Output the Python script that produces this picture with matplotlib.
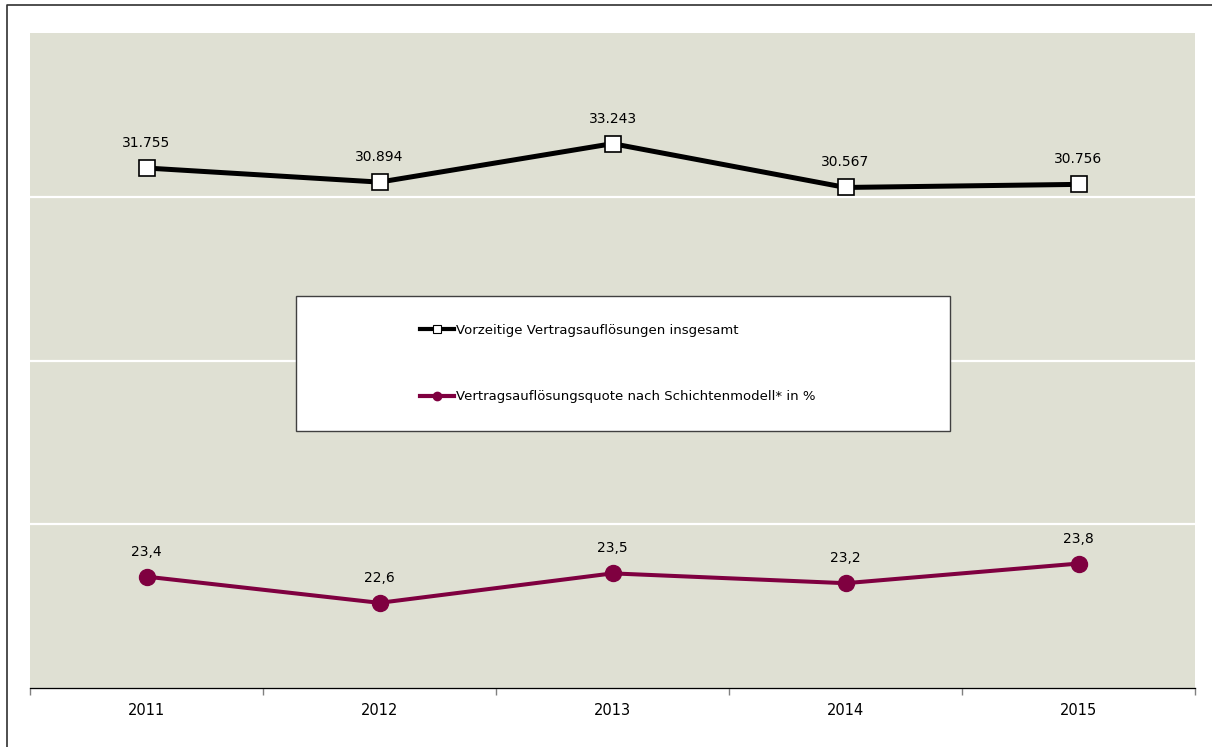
import matplotlib.pyplot as plt
from matplotlib.lines import Line2D
from matplotlib.patches import Rectangle

years = ["2011", "2012", "2013", "2014", "2015"]
aufloesungen = [31755, 30894, 33243, 30567, 30756]
quote = [23.4, 22.6, 23.5, 23.2, 23.8]

label_black = "Vorzeitige Vertragsauflösungen insgesamt"
label_red = "Vertragsauflösungsquote nach Schichtenmodell* in %"

BG = "#dfe0d3"
MAROON = "#7f0040"
W, H = 1212, 747

plt.rcParams['font.family'] = ['DejaVu Sans']
fig = plt.figure(figsize=(W / 100, H / 100), dpi=100)

# plot area in pixel terms
left, right, top, bottom = 30, 1195, 33, 688
ax = fig.add_axes([left / W, 1 - bottom / H, (right - left) / W, (bottom - top) / H])
ax.set_facecolor(BG)
ax2 = ax.twinx()

x = list(range(len(years)))

# left axis: absolute numbers
ax.set_ylim(0, 40000)
ax.set_yticks([10000, 20000, 30000])
ax.yaxis.grid(True, color="white", lw=1.6)
ax.set_axisbelow(True)
ax.tick_params(axis="y", left=False, labelleft=False)

# right axis: percentage
ax2.set_ylim(20, 40)
ax2.tick_params(axis="y", right=False, labelright=False)

for a in (ax, ax2):
    for s in ("top", "left", "right"):
        a.spines[s].set_visible(False)
ax.spines["bottom"].set_color("#808080")
ax.spines["bottom"].set_linewidth(1)

# category axis with ticks between years
ax.set_xlim(-0.5, len(years) - 0.5)
ax.set_xticks([i - 0.5 for i in range(len(years) + 1)])
ax.set_xticklabels([])
ax.set_xticks(x, minor=True)
ax.set_xticklabels(years, minor=True, fontsize=10.5)
ax.tick_params(axis="x", which="major", direction="out", length=5, color="#808080", width=1)
ax.tick_params(axis="x", which="minor", length=0, pad=11)

l1, = ax.plot(x, aufloesungen, color="black", lw=3.6, marker="s", ms=11,
              mfc="white", mec="black", mew=1.2, zorder=3)
l2, = ax2.plot(x, quote, color=MAROON, lw=2.9, marker="o", ms=11.5,
               mfc=MAROON, mec=MAROON, zorder=3)

for xi, v in zip(x, aufloesungen):
    ax.annotate(f"{v:,}".replace(",", "."), (xi, v), xytext=(0, 18), textcoords="offset points",
                ha="center", va="center", fontsize=10)
for xi, v in zip(x, quote):
    ax2.annotate(f"{v:.1f}".replace(".", ","), (xi, v), xytext=(0, 18), textcoords="offset points",
                 ha="center", va="center", fontsize=10)

# legend box
box = Rectangle((296 / W, 1 - 431 / H), (950 - 296) / W, (431 - 296) / H,
                transform=fig.transFigure, facecolor="white", edgecolor="#404040", lw=1, zorder=5)
fig.patches.append(box)

h1 = Line2D([], [], color="black", lw=3, marker="s", ms=6, mfc="white", mec="black", mew=0.8)
h2 = Line2D([], [], color=MAROON, lw=3, marker="o", ms=6, mfc=MAROON, mec=MAROON)
leg = fig.legend([h1, h2], [label_black, label_red], loc="upper left",
                 bbox_to_anchor=(420 / W, 1 - 324 / H), frameon=False, fontsize=9.5,
                 handlelength=2.6, handletextpad=0.15, labelspacing=4.05,
                 borderpad=0, borderaxespad=0)
leg.set_zorder(6)

# outer frame of the figure
fig.add_artist(Line2D([7 / W, 7 / W, 1], [0, 1 - 5 / H, 1 - 5 / H],
                      transform=fig.transFigure, color="#303030", lw=1.2))

fig.savefig("out.png", dpi=100)
